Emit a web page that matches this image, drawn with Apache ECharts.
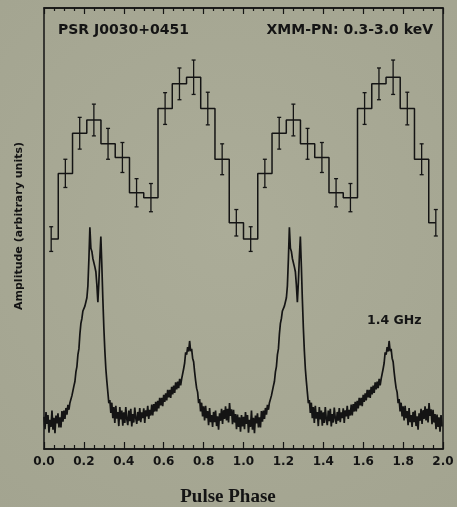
<!DOCTYPE html>
<html>
<head>
<meta charset="utf-8">
<script src="https://cdn.jsdelivr.net/npm/echarts@6/dist/echarts.min.js"></script>
<style>
  html, body { margin: 0; padding: 0; background: #a8a995; }
  #chart { width: 457px; height: 507px; }
</style>
</head>
<body>
<div id="chart"></div>
<script>
// XMM-Newton EPIC-PN pulse profile (0.3-3.0 keV), 14 phase bins per cycle, shown twice
const xrayPhase = [
  0.036, 0.107, 0.179, 0.250, 0.321, 0.393, 0.464, 0.536, 0.607, 0.679, 0.750, 0.821, 0.893, 0.964,
  1.036, 1.107, 1.179, 1.250, 1.321, 1.393, 1.464, 1.536, 1.607, 1.679, 1.750, 1.821, 1.893, 1.964
];
const xrayAmplitude = [
  47.6, 62.5, 71.6, 74.6, 69.2, 66.1, 58.1, 57.0, 77.2, 82.8, 84.3, 77.2, 65.7, 51.3,
  47.6, 62.5, 71.6, 74.6, 69.2, 66.1, 58.1, 57.0, 77.2, 82.8, 84.3, 77.2, 65.7, 51.3
];
const xrayError = [
  2.8, 3.2, 3.6, 3.6, 3.5, 3.4, 3.2, 3.2, 3.6, 3.6, 3.9, 3.7, 3.5, 3.0,
  2.8, 3.2, 3.6, 3.6, 3.5, 3.4, 3.2, 3.2, 3.6, 3.6, 3.9, 3.7, 3.5, 3.0
];

// 1.4 GHz radio profile, one rotation sampled every 0.005 in phase
const radioPhaseStep = 0.005;
const radioCycles = [0, 1];
const radioProfile = [
  7.3, 4.5, 8.4, 5.7, 7.7, 3.7, 6.6, 5.0, 8.7, 4.4,
  7.1, 3.6, 7.6, 5.8, 8.1, 4.9, 7.2, 4.9, 8.6, 6.2,
  8.7, 6.8, 9.3, 7.8, 10.0, 8.9, 10.5, 10.5, 12.1, 12.5,
  14.3, 15.3, 17.5, 18.7, 21.4, 22.7, 26.1, 28.5, 29.6, 31.3,
  31.0, 32.4, 32.6, 34.3, 37.0, 43.0, 50.3, 45.5, 44.8, 43.2,
  43.0, 41.3, 40.2, 37.2, 33.3, 37.8, 43.5, 48.2, 41.5, 34.0,
  27.5, 22.3, 18.2, 15.4, 12.9, 10.4, 11.1, 8.2, 10.5, 7.0,
  9.5, 5.9, 9.8, 6.9, 8.4, 5.2, 9.5, 6.7, 8.7, 5.3,
  8.3, 5.9, 9.5, 6.8, 5.4, 8.7, 6.3, 9.1, 5.1, 7.9,
  6.0, 9.4, 7.0, 5.7, 8.4, 6.4, 9.3, 6.1, 8.3, 7.0,
  9.2, 5.9, 8.8, 7.4, 9.8, 6.8, 8.9, 7.6, 10.1, 7.6,
  10.2, 8.5, 10.7, 8.5, 10.9, 9.2, 11.6, 9.9, 11.6, 9.7,
  12.3, 10.7, 12.6, 11.0, 13.4, 11.7, 13.4, 11.6, 14.1, 12.4,
  14.4, 12.7, 15.1, 13.5, 15.3, 13.8, 15.9, 14.4, 15.9, 15.7,
  18.2, 19.5, 21.9, 21.4, 23.1, 22.1, 24.5, 22.2, 22.7, 20.6,
  19.8, 17.5, 15.5, 13.8, 12.9, 10.4, 11.3, 8.5, 10.5, 7.4,
  9.7, 6.5, 9.8, 7.0, 8.6, 5.4, 9.3, 6.1, 7.7, 5.0,
  8.4, 6.1, 8.7, 5.2, 7.4, 4.4, 8.1, 6.4, 9.1, 5.7,
  8.8, 6.8, 9.7, 6.5, 9.1, 6.0, 10.4, 7.5, 9.0, 5.6,
  8.9, 6.0, 7.9, 4.5, 7.8, 5.0, 7.2, 3.9, 7.7, 5.1
];

const phaseTicks = { min: 0, max: 2, interval: 0.2 };

const ink = '#141414';
const labelFont = 'DejaVu Sans';

const radioData = [];
radioCycles.forEach(function (c) {
  radioProfile.forEach(function (v, i) {
    radioData.push([c + i * radioPhaseStep, v]);
  });
});

const chart = echarts.init(document.getElementById('chart'), null, { renderer: 'canvas' });

chart.setOption({
  animation: false,
  backgroundColor: {
    type: 'radial', x: 0.5, y: 0.45, r: 0.8,
    colorStops: [
      { offset: 0, color: '#abac98' },
      { offset: 1, color: '#a3a490' }
    ]
  },
  grid: {
    left: 44, right: 14, top: 8, bottom: 58,
    show: true, borderColor: ink, borderWidth: 1.5, backgroundColor: 'transparent'
  },
  xAxis: [
    {
      type: 'value', position: 'bottom',
      min: phaseTicks.min, max: phaseTicks.max, interval: phaseTicks.interval,
      axisLine: { show: true, lineStyle: { color: ink, width: 1.5 } },
      axisTick: { show: true, inside: true, length: 7, lineStyle: { color: ink, width: 1.2 } },
      minorTick: { show: true, splitNumber: 4, length: 4, lineStyle: { color: ink, width: 1.2 } },
      splitLine: { show: false },
      axisLabel: {
        margin: 7, color: ink, fontFamily: labelFont, fontWeight: 'bold', fontSize: 12,
        formatter: function (v) { return v.toFixed(1); }
      }
    },
    {
      type: 'value', position: 'top',
      min: phaseTicks.min, max: phaseTicks.max, interval: phaseTicks.interval,
      axisLine: { show: true, lineStyle: { color: ink, width: 1.5 } },
      axisTick: { show: true, inside: true, length: 6, lineStyle: { color: ink, width: 1.2 } },
      minorTick: { show: true, splitNumber: 4, length: 3, lineStyle: { color: ink, width: 1.2 } },
      splitLine: { show: false },
      axisLabel: { show: false }
    }
  ],
  yAxis: {
    type: 'value', min: 0, max: 100,
    axisLine: { show: false }, axisTick: { show: false },
    axisLabel: { show: false }, splitLine: { show: false }
  },
  series: [
    {
      name: 'XMM-PN',
      type: 'line',
      step: 'middle',
      showSymbol: false,
      data: xrayPhase.map(function (p, i) { return [p, xrayAmplitude[i]]; }),
      lineStyle: { color: ink, width: 1.5 },
      z: 3
    },
    {
      name: 'XMM-PN errors',
      type: 'custom',
      data: xrayPhase.map(function (p, i) { return [p, xrayAmplitude[i], xrayError[i]]; }),
      encode: { x: 0, y: 1 },
      renderItem: function (params, api) {
        const x = api.value(0), y = api.value(1), e = api.value(2);
        const top = api.coord([x, y + e]);
        const bot = api.coord([x, y - e]);
        const hw = 2;
        const st = { stroke: ink, lineWidth: 1.3 };
        return {
          type: 'group',
          children: [
            { type: 'line', shape: { x1: top[0], y1: top[1], x2: bot[0], y2: bot[1] }, style: st },
            { type: 'line', shape: { x1: top[0] - hw, y1: top[1], x2: top[0] + hw, y2: top[1] }, style: st },
            { type: 'line', shape: { x1: bot[0] - hw, y1: bot[1], x2: bot[0] + hw, y2: bot[1] }, style: st }
          ]
        };
      },
      z: 4
    },
    {
      name: '1.4 GHz',
      type: 'line',
      showSymbol: false,
      data: radioData,
      lineStyle: { color: ink, width: 1.7 },
      z: 2
    }
  ],
  graphic: [
    {
      type: 'text', left: 58, top: 23,
      style: { text: 'PSR J0030+0451', fill: ink, font: 'bold 14px "DejaVu Sans"' }
    },
    {
      type: 'text', right: 24, top: 23,
      style: { text: 'XMM-PN: 0.3-3.0 keV', fill: ink, font: 'bold 14px "DejaVu Sans"' }
    },
    {
      type: 'text', left: 367, top: 314,
      style: { text: '1.4 GHz', fill: ink, font: 'bold 12.5px "DejaVu Sans"' }
    },
    {
      type: 'text', x: 228, y: 497,
      style: {
        text: 'Pulse Phase', fill: ink, font: 'bold 19px "Liberation Serif"',
        textAlign: 'center', textVerticalAlign: 'middle'
      }
    },
    {
      type: 'text', x: 19, y: 226, rotation: Math.PI / 2,
      style: {
        text: 'Amplitude (arbitrary units)', fill: ink, font: 'bold 11px "DejaVu Sans"',
        textAlign: 'center', textVerticalAlign: 'middle'
      }
    }
  ]
});
</script>
</body>
</html>
